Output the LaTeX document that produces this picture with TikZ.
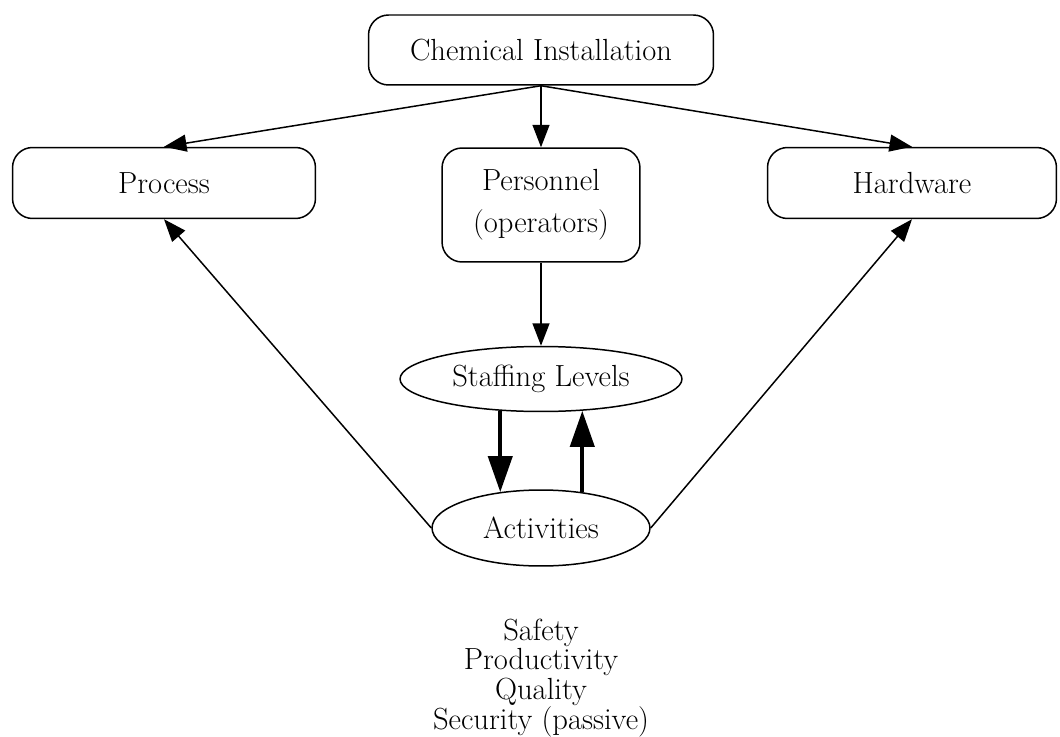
\documentclass[tikz,border=0pt]{standalone}
\usetikzlibrary{arrows.meta,shapes.geometric}
\begin{document}
\begin{tikzpicture}[x=0.02cm,y=-0.02cm,
  every node/.style={font=\fontsize{17.4}{17}\selectfont},
  rbox/.style={draw,line width=0.85pt,rounded corners=0.4cm,align=center,inner sep=0pt},
  oval/.style={draw,line width=0.85pt,ellipse,inner sep=0pt},
  thin arrow/.style={line width=0.85pt,-{Triangle[length=0.45cm,width=0.34cm]}},
  thick arrow/.style={line width=2.3pt,-{Triangle[length=0.72cm,width=0.48cm]}}]
\useasboundingbox (0,0) rectangle (1060,736);
\node[rbox,minimum width=6.9cm,minimum height=1.4cm] (c) at (541,50) {Chemical Installation};
\node[rbox,minimum width=6.06cm,minimum height=1.42cm] (p) at (164,183) {Process};
\node[rbox,minimum width=3.96cm,minimum height=2.28cm] (o) at (541,205) {Personnel\\[7pt](operators)};
\node[rbox,minimum width=5.78cm,minimum height=1.42cm] (h) at (912,183) {Hardware};
\node[oval,minimum width=5.64cm,minimum height=1.3cm] (s) at (541,379) {Staffing Levels};
\node[oval,minimum width=4.36cm,minimum height=1.52cm] (a) at (541,528) {Activities};
\node[align=center] (t) at (541,678) {Safety\\Productivity\\Quality\\Security (passive)};
\draw[thin arrow] (c.south) -- (p.north);
\draw[thin arrow] (c.south) -- (o.north);
\draw[thin arrow] (c.south) -- (h.north);
\draw[thin arrow] (o.south) -- (s.north);
\draw[thin arrow] (a.west) -- (p.south);
\draw[thin arrow] (a.east) -- (h.south);
\draw[thick arrow] (s.218) -- (s.218 |- a.139.4);
\draw[thick arrow] (a.41.4) -- (a.41.4 |- s.322.2);
\end{tikzpicture}
\end{document}
